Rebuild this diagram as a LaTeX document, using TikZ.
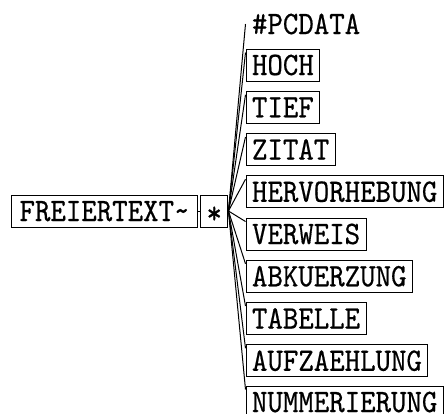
\documentclass[tikz,border=0pt]{standalone}
\usepackage{fontspec}
\newfontfamily\dtdfont[FakeStretch=0.9,FakeBold=0.5]{lmmono10-regular.otf}
\usetikzlibrary{calc}
\begin{document}
\begin{tikzpicture}[x=1pt,y=-1pt,
  el/.style={draw=black, line width=1pt, font=\dtdfont\fontsize{32.7}{32.7}\selectfont,
    inner xsep=6pt, inner ysep=0pt, minimum height=32pt, text height=20pt,
    text depth=0pt, anchor=west},
  txt/.style={el, draw=none},
  fork/.style={draw=black, line width=1pt}]
\useasboundingbox (0,0) rectangle (447,413);
\fill[white] (0,0) rectangle (447,413);
\node[el, minimum width=186pt] (root) at (11,211) {FREIERTEXT\textasciitilde};
\node[el] (star) at (200,211) {\raisebox{-2.5pt}{*}};
\node[txt] (pcdata) at (245.5,24) {\#PCDATA};
\node[el] (hoch) at (245.5,65) {HOCH};
\node[el] (tief) at (245.5,107.25) {TIEF};
\node[el] (zitat) at (245.5,149.5) {ZITAT};
\node[el] (herv) at (245.5,191.75) {HERVORHEBUNG};
\node[el] (verweis) at (245.5,234) {VERWEIS};
\node[el] (abk) at (245.5,276.25) {ABKUERZUNG};
\node[el] (tab) at (245.5,318.5) {TABELLE};
\node[el] (aufz) at (245.5,360.75) {AUFZAEHLUNG};
\node[el] (numm) at (245.5,402) {NUMMERIERUNG};
\draw[fork] (root.east) -- (star.west);
\draw[fork] (star.east) -- (pcdata.west);
\foreach \n in {hoch,tief,zitat,herv,verweis,abk,tab,aufz,numm}
  \draw[fork] (star.east) -- ($(\n.north west)+(0,4)$);
\end{tikzpicture}
\end{document}
